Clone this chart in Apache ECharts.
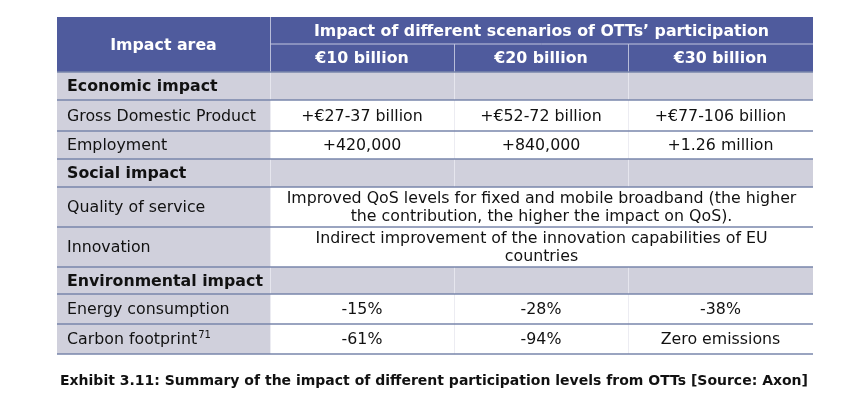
<!DOCTYPE html>
<html><head><meta charset="utf-8">
<script src="https://cdn.jsdelivr.net/npm/echarts@6/dist/echarts.min.js"></script>
<style>html,body{margin:0;padding:0;background:#fff}#c{width:868px;height:402px}</style>
</head><body><div id="c"></div><script>
// ---- data ----
const headerTitle = 'Impact area';
const scenarioTitle = 'Impact of different scenarios of OTTs’ participation';
const scenarios = ['€10 billion', '€20 billion', '€30 billion'];
const sections = ['Economic impact', 'Social impact', 'Environmental impact'];
const economicRows = ['Gross Domestic Product', 'Employment'];
const gdpValues = ['+€27-37 billion', '+€52-72 billion', '+€77-106 billion'];
const employmentValues = ['+420,000', '+840,000', '+1.26 million'];
const socialRows = ['Quality of service', 'Innovation'];
const qosText = 'Improved QoS levels for fixed and mobile broadband (the higher\nthe contribution, the higher the impact on QoS).';
const innovationText = 'Indirect improvement of the innovation capabilities of EU\ncountries';
const environmentalRows = ['Energy consumption', 'Carbon footprint'];
const energyValues = ['-15%', '-28%', '-38%'];
const carbonValues = ['-61%', '-94%', 'Zero emissions'];
const carbonFootnote = '71';
const caption = 'Exhibit 3.11: Summary of the impact of different participation levels from OTTs [Source: Axon]';

// ---- layout (axis units = px inside grid) ----
const colEdges = [0, 213, 397, 571, 756];
const rowEdges = [0, 27, 55, 83, 114, 142, 170, 210, 250, 277, 307, 337];
const FONT = '"DejaVu Sans", Verdana, sans-serif';
const FS = 15.8;

// ---- build cells from data ----
const cells = [];
cells.push({c0:0,c1:1,r0:0,r1:2,text:headerTitle,kind:'head'});
cells.push({c0:1,c1:4,r0:0,r1:1,text:scenarioTitle,kind:'head'});
scenarios.forEach((s,i)=>cells.push({c0:i+1,c1:i+2,r0:1,r1:2,text:s,kind:'head'}));
let r = 2;
function sectionRow(name){
  cells.push({c0:0,c1:1,r0:r,r1:r+1,text:name,kind:'section'});
  for(let i=1;i<4;i++) cells.push({c0:i,c1:i+1,r0:r,r1:r+1,text:'',kind:'sectionfill'});
  r++;
}
function valueRow(label, vals, sup){
  cells.push({c0:0,c1:1,r0:r,r1:r+1,text:label,kind:'label',sup:sup});
  vals.forEach((v,i)=>cells.push({c0:i+1,c1:i+2,r0:r,r1:r+1,text:v,kind:'value'}));
  r++;
}
function mergedRow(label, text){
  cells.push({c0:0,c1:1,r0:r,r1:r+1,text:label,kind:'label'});
  cells.push({c0:1,c1:4,r0:r,r1:r+1,text:text,kind:'value'});
  r++;
}
sectionRow(sections[0]);
valueRow(economicRows[0], gdpValues);
valueRow(economicRows[1], employmentValues);
sectionRow(sections[1]);
mergedRow(socialRows[0], qosText);
mergedRow(socialRows[1], innovationText);
sectionRow(sections[2]);
valueRow(environmentalRows[0], energyValues);
valueRow(environmentalRows[1], carbonValues, carbonFootnote);

const measureCtx = document.createElement('canvas').getContext('2d');

function renderItem(params, api){
  const cell = cells[params.dataIndex];
  const p0 = api.coord([colEdges[cell.c0], rowEdges[cell.r0]]);
  const p1 = api.coord([colEdges[cell.c1], rowEdges[cell.r1]]);
  const x = p0[0], y = p0[1], w = p1[0]-p0[0], h = p1[1]-p0[1];
  const head = cell.kind === 'head';
  const gray = cell.kind === 'section' || cell.kind === 'sectionfill' || cell.kind === 'label';
  const bg = head ? '#4f5b9d' : (gray ? '#d0d0dc' : '#ffffff');
  const children = [{type:'rect', shape:{x:x,y:y,width:w,height:h}, style:{fill:bg}}];
  const bold = head || cell.kind === 'section';
  const font = (bold ? 'bold ' : '') + FS + 'px ' + FONT;
  if (cell.text){
    const left = cell.kind === 'section' || cell.kind === 'label';
    children.push({type:'text', z2:5, style:{
      text: cell.text, x: left ? x+10 : x+w/2, y: y+h/2+1,
      align: left ? 'left' : 'center', verticalAlign:'middle',
      font: font, fill: head ? '#ffffff' : '#111111', lineHeight: 17.5
    }});
    if (cell.sup){
      measureCtx.font = font;
      const tw = measureCtx.measureText(cell.text).width;
      children.push({type:'text', z2:5, style:{
        text: cell.sup, x: x+10+tw+1, y: y+h/2-4, align:'left', verticalAlign:'middle',
        font: '10px ' + FONT, fill:'#111111'
      }});
    }
  }
  // bottom border
  if (cell.r1 === 1){
    children.push({type:'line', z2:8, shape:{x1:x,y1:y+h,x2:x+w,y2:y+h}, style:{stroke:'#c3c7df', lineWidth:1}});
  } else if (cell.r1 >= 2){
    children.push({type:'line', z2:9, shape:{x1:x,y1:y+h,x2:x+w,y2:y+h}, style:{stroke:'#7886ab', lineWidth:1.6}});
  }
  // left border
  if (cell.c0 > 0){
    const vc = head ? '#b8bdd9' : (gray ? '#e6e6ee' : '#ececf2');
    children.push({type:'line', z2:7, shape:{x1:x+0.5,y1:y,x2:x+0.5,y2:y+h}, style:{stroke:vc, lineWidth:1}});
  }
  return {type:'group', children:children};
}

const chart = echarts.init(document.getElementById('c'), null, {renderer:'canvas'});
chart.setOption({
  animation:false,
  backgroundColor:'#ffffff',
  title:{text:caption, left:'center', top:369,
    textStyle:{fontFamily:'"DejaVu Sans", sans-serif', fontWeight:'bold', fontSize:14, color:'#111111'}},
  grid:{left:57, top:17, width:756, height:337},
  xAxis:{type:'value', min:0, max:756, show:false},
  yAxis:{type:'value', min:0, max:337, inverse:true, show:false},
  series:[{type:'custom', renderItem:renderItem, clip:false,
    data: cells.map(c=>[colEdges[c.c0], rowEdges[c.r0], colEdges[c.c1], rowEdges[c.r1]]),
    encode:{x:[0,2], y:[1,3]}
  }]
});
</script></body></html>
